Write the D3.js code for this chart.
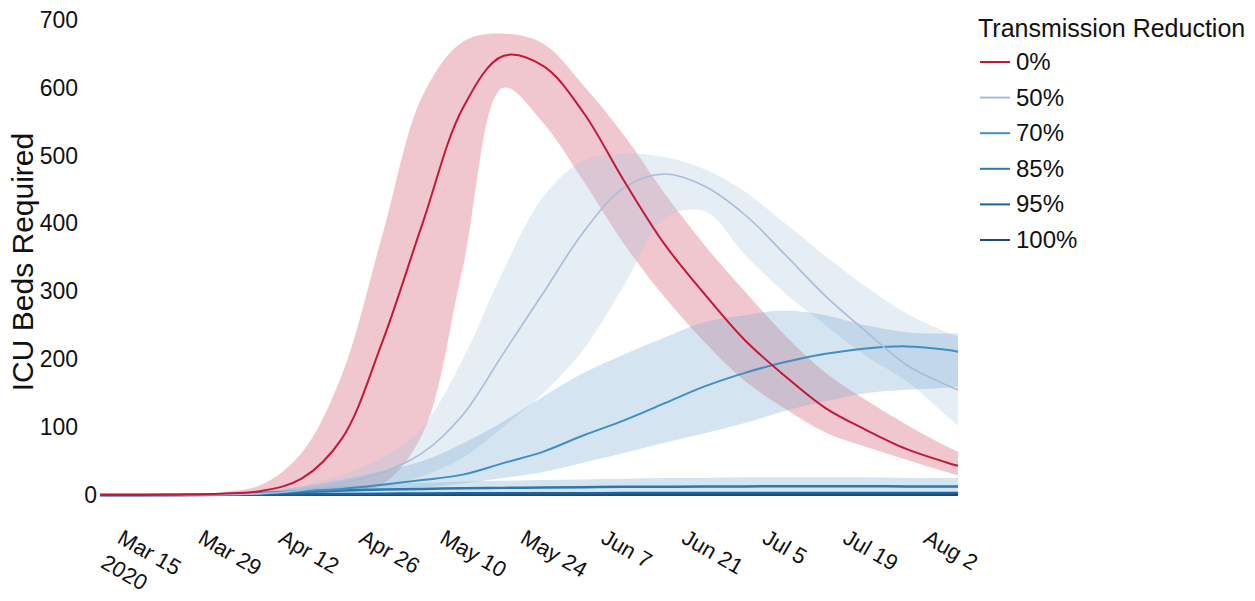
<!DOCTYPE html>
<html>
<head>
<meta charset="utf-8">
<script src="https://cdn.jsdelivr.net/npm/d3@7"></script>
<style>
  body { margin: 0; background: #fff; }
  svg text { font-family: "Liberation Sans", Arial, sans-serif; fill: #111; }
</style>
</head>
<body>
<div id="chart"></div>
<script>
// sample dates (weekly, plus last day shown)
var dates = ["2020-03-13", "2020-03-20", "2020-03-27", "2020-04-03", "2020-04-10", "2020-04-17",
  "2020-04-24", "2020-05-01", "2020-05-08", "2020-05-15", "2020-05-22", "2020-05-29",
  "2020-06-05", "2020-06-12", "2020-06-19", "2020-06-26", "2020-07-03", "2020-07-10",
  "2020-07-17", "2020-07-24", "2020-07-31", "2020-08-07", "2020-08-09"];

var scenarios = ["0%", "50%", "70%", "85%", "95%", "100%"];

// median ICU beds, per scenario
var median_0 = [0, 0, 0.5, 2, 6, 24, 83, 225, 400, 570, 647, 632, 563, 463, 370, 296, 228, 175, 128, 96, 68, 48, 43];
var median_50 = [0, 0, 0, 0.5, 2, 7, 17, 33, 62, 118, 208, 298, 388, 453, 473, 455, 413, 354, 293, 241, 192, 162, 155];
var median_70 = [0, 0, 0.3, 1, 3, 6, 9, 15, 22, 30, 47, 64, 88, 110, 135, 160, 180, 196, 208, 216, 219, 214, 211];
var median_85 = [0, 0, 0.2, 1, 2.5, 4.5, 6.5, 8, 9, 10, 10.5, 11, 11.5, 12, 12, 12.5, 12.5, 13, 13, 13, 12.5, 12.5, 12.5];
var median_95 = [0, 0, 0.1, 0.4, 0.8, 1.2, 1.6, 2, 2.2, 2.4, 2.5, 2.6, 2.7, 2.8, 2.8, 2.9, 2.9, 3, 3, 3, 3, 3, 3];
var median_100 = [0, 0, 0.1, 0.2, 0.3, 0.3, 0.3, 0.3, 0.3, 0.3, 0.3, 0.3, 0.3, 0.3, 0.3, 0.3, 0.3, 0.3, 0.3, 0.3, 0.3, 0.3, 0.3];

// uncertainty bands
var upper_0 = [0, 0, 1, 4, 15, 62, 177, 382, 588, 668, 680, 665, 603, 530, 445, 368, 300, 235, 180, 140, 104, 72, 64];
var lower_0 = [0, 0, 0, 0.3, 1, 3, 6, 16, 90, 335, 600, 548, 462, 370, 292, 225, 168, 127, 92, 71, 52, 34, 29];
var upper_50 = [0, 0, 0.2, 1, 4, 14, 30, 55, 100, 200, 330, 440, 493, 503, 498, 480, 447, 400, 352, 307, 268, 240, 233];
var lower_50 = [0, 0, 0, 0.1, 0.5, 2, 6, 12, 28, 55, 100, 150, 215, 309, 408, 418, 354, 297, 250, 205, 168, 117, 102];
var upper_70 = [0, 0, 0.5, 2, 6, 12, 22, 35, 50, 76, 108, 145, 180, 207, 232, 255, 265, 272, 265, 250, 240, 238, 238];
var lower_70 = [0, 0, 0, 0.2, 1, 2, 4, 7, 11, 17, 25, 34, 48, 62, 77, 91, 106, 124, 138, 150, 155, 158, 160];
var upper_85 = [0, 0, 0.5, 2, 5, 9, 13, 16, 18, 20, 21, 22, 23, 24, 25, 25, 26, 26, 26, 26, 25, 25, 25];
var lower_85 = [0, 0, 0, 0.5, 1, 2, 3, 4, 4.5, 5, 5, 5.5, 5.5, 6, 6, 6, 6, 6, 6, 6, 6, 6, 6];
var upper_95 = [0, 0, 0.2, 1, 2, 3, 4, 4.5, 5, 5.5, 5.5, 6, 6, 6, 6, 6, 6, 6, 6, 6, 6, 6, 6];
var lower_95 = [0, 0, 0, 0, 0.2, 0.3, 0.5, 0.6, 0.7, 0.8, 0.8, 0.8, 0.8, 0.8, 0.8, 0.8, 0.8, 0.8, 0.8, 0.8, 0.8, 0.8, 0.8];
var upper_100 = [0, 0, 0.2, 0.4, 0.6, 0.6, 0.6, 0.6, 0.6, 0.6, 0.6, 0.6, 0.6, 0.6, 0.6, 0.6, 0.6, 0.6, 0.6, 0.6, 0.6, 0.6, 0.6];
var lower_100 = [0, 0, 0, 0, 0, 0, 0, 0, 0, 0, 0, 0, 0, 0, 0, 0, 0, 0, 0, 0, 0, 0, 0];

var y_ticks = [0, 100, 200, 300, 400, 500, 600, 700];
var x_ticks = ["2020-03-15", "2020-03-29", "2020-04-12", "2020-04-26", "2020-05-10", "2020-05-24",
  "2020-06-07", "2020-06-21", "2020-07-05", "2020-07-19", "2020-08-02"];

var line_colors = ["#c4173b", "#a9bcd8", "#3f8fc2", "#2b78ac", "#22629a", "#1a4a6c"];
var band_colors = ["#d0445f", "#aac4df", "#6fa8d0", "#6fa8d0", "#6fa8d0", "#6fa8d0"];
var line_widths = [2, 1.6, 2, 2.5, 2.5, 2.5];

var medians = [median_0, median_50, median_70, median_85, median_95, median_100];
var uppers = [upper_0, upper_50, upper_70, upper_85, upper_95, upper_100];
var lowers = [lower_0, lower_50, lower_70, lower_85, lower_95, lower_100];

var width = 1255,
    height = 601;

var parse = d3.timeParse("%Y-%m-%d");
var fmt = d3.timeFormat("%b %-d");

var series = scenarios.map(function (name, k) {
  return {
    name: name,
    values: dates.map(function (d, i) {
      return {date: parse(d), mid: medians[k][i], hi: uppers[k][i], lo: lowers[k][i]};
    })
  };
});

var svg = d3.select("#chart").append("svg")
    .attr("width", width)
    .attr("height", height);

var x = d3.scaleTime()
    .domain([parse(dates[0]), parse(dates[dates.length - 1])])
    .range([100, 958]);

var y = d3.scaleLinear()
    .domain([0, 700])
    .range([495, 20]);

var curve = d3.curveCatmullRom.alpha(0.5);

var area = d3.area()
    .curve(curve)
    .x(function (d) { return x(d.date); })
    .y0(function (d) { return y(d.lo); })
    .y1(function (d) { return y(d.hi); });

var line = d3.line()
    .curve(curve)
    .x(function (d) { return x(d.date); })
    .y(function (d) { return y(d.mid); });

// bands first, then lines on top
svg.append("g").selectAll("path")
    .data(series)
    .join("path")
    .attr("d", function (s) { return area(s.values); })
    .attr("fill", function (s, i) { return band_colors[i]; })
    .attr("fill-opacity", 0.3);

svg.append("g").selectAll("path")
    .data(series.slice().reverse())
    .join("path")
    .attr("d", function (s) { return line(s.values); })
    .attr("fill", "none")
    .attr("stroke", function (s) { return line_colors[scenarios.indexOf(s.name)]; })
    .attr("stroke-width", function (s) { return line_widths[scenarios.indexOf(s.name)]; });

// y axis
var y_axis = svg.append("g")
    .attr("transform", "translate(80,0)")
    .call(d3.axisLeft(y).tickValues(y_ticks).tickSize(0).tickPadding(2));
y_axis.select(".domain").remove();
y_axis.selectAll("text")
    .style("font-size", "23px")
    .attr("x", function (d) { return d === 0 ? 17 : -2; });

svg.append("text")
    .attr("transform", "translate(33,262) rotate(-90)")
    .attr("text-anchor", "middle")
    .style("font-size", "30px")
    .text("ICU Beds Required");

// x axis
var x_axis = svg.append("g")
    .attr("transform", "translate(0,520)")
    .call(d3.axisBottom(x).tickValues(x_ticks.map(parse)).tickSize(0).tickFormat(fmt));
x_axis.select(".domain").remove();
x_axis.selectAll("text")
    .attr("x", 0).attr("y", 0).attr("dy", null)
    .attr("transform", "translate(4,22) rotate(30)")
    .style("text-anchor", "start")
    .style("font-size", "22px");
x_axis.select(".tick text")
    .append("tspan")
    .attr("x", 0)
    .attr("dx", "-2")
    .attr("dy", "1.35em")
    .text("2020");

// legend
var legend = svg.append("g").attr("transform", "translate(978,0)");
legend.append("text")
    .attr("x", 0).attr("y", 37)
    .style("font-size", "25px")
    .text("Transmission Reduction");
var items = legend.selectAll(".item")
    .data(scenarios)
    .join("g")
    .attr("class", "item")
    .attr("transform", function (d, i) { return "translate(0," + (62 + i * 35.6) + ")"; });
items.append("line")
    .attr("x1", 2).attr("x2", 32)
    .attr("stroke", function (d, i) { return line_colors[i]; })
    .attr("stroke-width", 2);
items.append("text")
    .attr("x", 38).attr("y", 8)
    .style("font-size", "24px")
    .text(function (d) { return d; });
</script>
</body>
</html>
